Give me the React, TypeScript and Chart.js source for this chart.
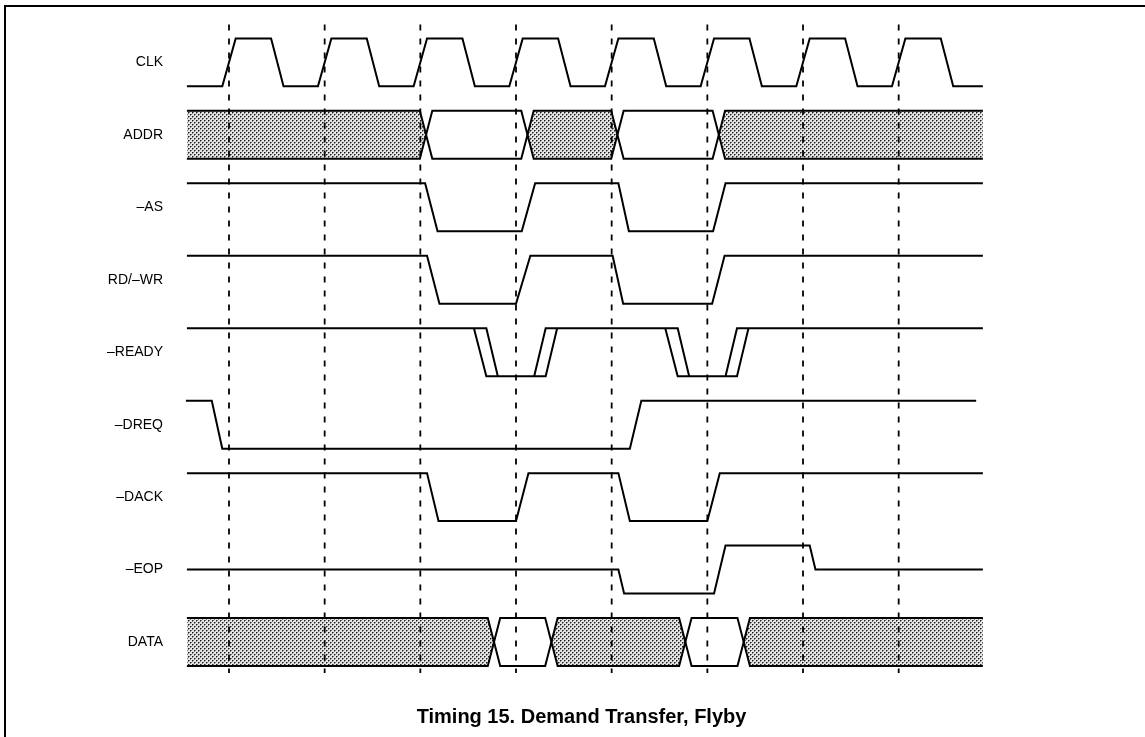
import React, { useEffect, useRef } from "react";
import { Chart, registerables } from "chart.js";

Chart.register(...registerables);

// ---- data (time in clock periods, level 0 = low, 1 = high, 0.5 = mid) ----
const SIGNAL_NAMES = ["CLK", "ADDR", "–AS", "RD/–WR", "–READY", "–DREQ", "–DACK", "–EOP", "DATA"];

const CLK: [number, number][] = [
  [-0.44, 0], [-0.07, 0], [0.07, 1], [0.44, 1], [0.57, 0], [0.93, 0], [1.07, 1], [1.44, 1],
  [1.57, 0], [1.93, 0], [2.07, 1], [2.44, 1], [2.57, 0], [2.93, 0], [3.07, 1], [3.44, 1],
  [3.57, 0], [3.93, 0], [4.07, 1], [4.44, 1], [4.57, 0], [4.93, 0], [5.07, 1], [5.44, 1],
  [5.57, 0], [5.93, 0], [6.07, 1], [6.44, 1], [6.57, 0], [6.93, 0], [7.07, 1], [7.44, 1],
  [7.57, 0], [7.88, 0],
];

const ADDR_SPAN: [number, number] = [-0.44, 7.88];
const ADDR_TRANSITIONS = [2.06, 3.12, 4.06, 5.12];
const ADDR_STATES = ["X", "V", "X", "V", "X"];

const AS: [number, number][] = [
  [-0.44, 1], [2.05, 1], [2.18, 0], [3.06, 0], [3.2, 1], [4.07, 1], [4.18, 0], [5.06, 0], [5.19, 1], [7.88, 1],
];

const RD_WR: [number, number][] = [
  [-0.44, 1], [2.07, 1], [2.2, 0], [3.0, 0], [3.15, 1], [4.01, 1], [4.12, 0], [5.05, 0], [5.18, 1], [7.88, 1],
];

// null level = break in the trace
const READY: [number, number | null][] = [
  [-0.44, 1], [2.69, 1], [2.81, 0], [3.31, 0], [3.43, 1], [4.69, 1], [4.81, 0], [5.31, 0], [5.43, 1], [7.88, 1],
  [7.88, null],
  [2.56, 1], [2.69, 0], [2.81, 0],
  [2.81, null],
  [3.19, 0], [3.31, 1], [3.43, 1],
  [3.43, null],
  [4.56, 1], [4.69, 0], [4.81, 0],
  [4.81, null],
  [5.19, 0], [5.31, 1], [5.43, 1],
];

const DREQ: [number, number][] = [
  [-0.45, 1], [-0.18, 1], [-0.07, 0], [4.19, 0], [4.31, 1], [7.81, 1],
];

const DACK: [number, number][] = [
  [-0.44, 1], [2.07, 1], [2.19, 0], [3.0, 0], [3.13, 1], [4.07, 1], [4.19, 0], [5.0, 0], [5.13, 1], [7.88, 1],
];

const EOP: [number, number][] = [
  [-0.44, 0.5], [4.07, 0.5], [4.13, 0], [5.07, 0], [5.19, 1], [6.07, 1], [6.13, 0.5], [7.88, 0.5],
];

const DATA_SPAN: [number, number] = [-0.44, 7.88];
const DATA_TRANSITIONS = [2.77, 3.37, 4.77, 5.38];
const DATA_STATES = ["X", "V", "X", "V", "X"];

const CLOCK_EDGES = [0, 1, 2, 3, 4, 5, 6, 7];

const TITLE = "Timing 15. Demand Transfer, Flyby";

// ---- layout / style constants ----
const X_MIN = -0.5644;
const X_MAX = 9.5746;
const Y_MIN = -0.4276;
const Y_MAX = 8.9103;
const AMP = 0.662; // high-low swing in row units
const HALF = 0.065; // bus transition half width
const DASH_TOP = 8.855;
const DASH_BOTTOM = -0.095;
const FONT = '"Liberation Sans", Arial, Helvetica, sans-serif';

function rowY(r: number, level: number) {
  return 8 - r + level * AMP;
}

function makePattern(): CanvasPattern | string {
  const c = document.createElement("canvas");
  c.width = 4;
  c.height = 4;
  const g = c.getContext("2d");
  if (!g) return "#b0b0b0";
  g.fillStyle = "#e6e6e6";
  g.fillRect(0, 0, 4, 4);
  g.fillStyle = "#7a7a7a";
  g.fillRect(1, 0, 1, 1);
  g.fillRect(0, 1, 1, 1);
  g.fillRect(3, 2, 1, 1);
  g.fillRect(2, 3, 1, 1);
  g.fillStyle = "#1e1e1e";
  g.fillRect(0, 0, 1, 1);
  g.fillRect(2, 2, 1, 1);
  const p = g.createPattern(c, "repeat");
  return p || "#b0b0b0";
}

export default function App() {
  const ref = useRef<HTMLCanvasElement | null>(null);

  useEffect(() => {
    const canvas = ref.current;
    if (!canvas) return;
    const pattern = makePattern();
    const datasets: any[] = [];
    const lineStyle = {
      borderColor: "#000",
      borderWidth: 2,
      pointRadius: 0,
      fill: false,
      tension: 0,
      order: 0,
    };

    // dashed clock reference lines
    CLOCK_EDGES.forEach((t) => {
      datasets.push({
        data: [
          { x: t, y: DASH_TOP },
          { x: t, y: DASH_BOTTOM },
        ],
        borderColor: "#000",
        borderWidth: 1.8,
        borderDash: [6, 8],
        pointRadius: 0,
        fill: false,
        order: 5,
      });
    });

    const levelSignal = (r: number, pts: [number, number | null][]) => {
      datasets.push({
        ...lineStyle,
        data: pts.map(([t, l]) => ({ x: t, y: l === null ? null : rowY(r, l) })),
      });
    };

    const bus = (r: number, span: [number, number], trans: number[], states: string[]) => {
      const bounds = [span[0], ...trans, span[1]];
      // hatched fills
      states.forEach((s, i) => {
        if (s !== "X") return;
        const a = bounds[i];
        const b = bounds[i + 1];
        const mk = (lvl: number) => {
          const pts: { x: number; y: number }[] = [];
          if (i === 0) pts.push({ x: a, y: rowY(r, lvl) });
          else {
            pts.push({ x: a, y: rowY(r, 0.5) });
            pts.push({ x: a + HALF, y: rowY(r, lvl) });
          }
          if (i === states.length - 1) pts.push({ x: b, y: rowY(r, lvl) });
          else {
            pts.push({ x: b - HALF, y: rowY(r, lvl) });
            pts.push({ x: b, y: rowY(r, 0.5) });
          }
          return pts;
        };
        datasets.push({
          data: mk(1),
          borderWidth: 0,
          borderColor: "rgba(0,0,0,0)",
          pointRadius: 0,
          fill: "+1",
          backgroundColor: pattern,
          order: 10,
        });
        datasets.push({
          data: mk(0),
          borderWidth: 0,
          borderColor: "rgba(0,0,0,0)",
          pointRadius: 0,
          fill: false,
          order: 10,
        });
      });
      // outlines
      const outline = (lvl: number) => {
        const pts: { x: number; y: number }[] = [{ x: span[0], y: rowY(r, lvl) }];
        trans.forEach((c) => {
          pts.push({ x: c - HALF, y: rowY(r, lvl) });
          pts.push({ x: c, y: rowY(r, 0.5) });
          pts.push({ x: c + HALF, y: rowY(r, lvl) });
        });
        pts.push({ x: span[1], y: rowY(r, lvl) });
        return pts;
      };
      datasets.push({ ...lineStyle, data: outline(1) });
      datasets.push({ ...lineStyle, data: outline(0) });
    };

    levelSignal(0, CLK);
    bus(1, ADDR_SPAN, ADDR_TRANSITIONS, ADDR_STATES);
    levelSignal(2, AS);
    levelSignal(3, RD_WR);
    levelSignal(4, READY);
    levelSignal(5, DREQ);
    levelSignal(6, DACK);
    levelSignal(7, EOP);
    bus(8, DATA_SPAN, DATA_TRANSITIONS, DATA_STATES);

    const chart = new Chart(canvas, {
      type: "line",
      data: { datasets },
      options: {
        animation: false,
        responsive: false,
        maintainAspectRatio: false,
        events: [],
        layout: { padding: { left: 18, top: 20, right: 0, bottom: 0 } },
        elements: {
          line: { tension: 0, borderCapStyle: "butt", borderJoinStyle: "miter" },
          point: { radius: 0 },
        },
        plugins: {
          legend: { display: false },
          tooltip: { enabled: false },
          title: {
            display: true,
            position: "bottom",
            text: TITLE,
            color: "#000",
            font: { family: FONT, size: 20, weight: "bold", lineHeight: "20px" },
            padding: { top: 10, bottom: 10 },
          },
        },
        scales: {
          x: { type: "linear", min: X_MIN, max: X_MAX, display: false },
          y: {
            type: "linear",
            min: Y_MIN,
            max: Y_MAX,
            grid: { display: false, drawTicks: false },
            border: { display: false },
            afterBuildTicks: (axis: any) => {
              axis.ticks = SIGNAL_NAMES.map((_, r) => ({ value: rowY(r, 0.5) }));
            },
            afterFit: (axis: any) => {
              axis.width = 157;
            },
            ticks: {
              padding: 12,
              color: "#000",
              font: { family: FONT, size: 14 },
              callback: (_v: any, i: number) => SIGNAL_NAMES[i],
            },
          },
        },
      } as any,
    });
    return () => chart.destroy();
  }, []);

  return (
    <div
      style={{
        position: "fixed",
        left: 0,
        top: 0,
        width: 1145,
        height: 737,
        background: "#fff",
        overflow: "hidden",
      }}
    >
      <canvas ref={ref} width={1145} height={737} style={{ display: "block" }} />
      <div
        style={{
          position: "absolute",
          left: 4,
          top: 5,
          right: 0,
          bottom: 0,
          borderTop: "2px solid #000",
          borderLeft: "2px solid #000",
          pointerEvents: "none",
        }}
      />
    </div>
  );
}
